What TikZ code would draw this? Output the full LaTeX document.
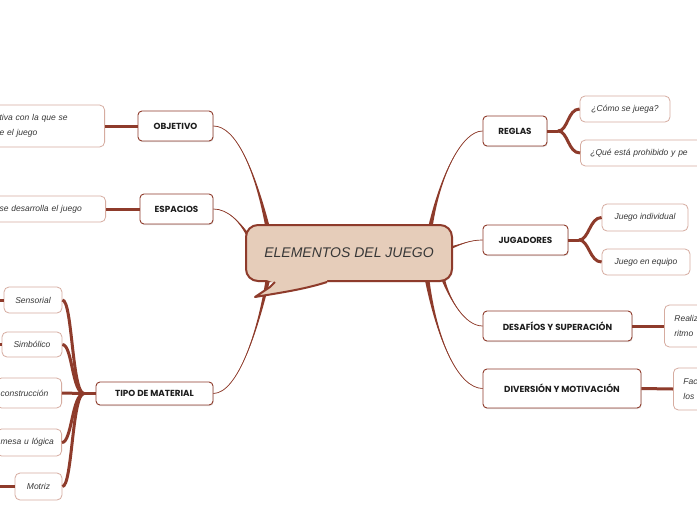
\documentclass[tikz,border=0pt]{standalone}
\usepackage{fontspec}
\setmainfont{Liberation Sans}
\newfontfamily\topicfont{Poppins}
\newfontfamily\subfont{Liberation Sans}
\usetikzlibrary{calc,shadows}
\definecolor{brn}{RGB}{142,59,43}
\definecolor{lbrn}{RGB}{214,172,160}
\definecolor{ctan}{RGB}{230,205,186}
\definecolor{txt}{RGB}{55,55,55}
\definecolor{ttxt}{RGB}{30,30,30}
\newcommand{\taperline}[5]{%
  \fill[brn] #1 .. controls #2 and #3 .. ($#4+#5$) -- ($#4-#5$) .. controls #3 and #2 .. #1 -- cycle;
  \draw[brn,line width=0.7] #1 .. controls #2 and #3 .. #4;}
\tikzset{
  topic/.style={draw=brn, line width=0.9pt, fill=white, rounded corners=4pt, text=ttxt,
    font=\topicfont\bfseries\fontsize{8.8}{10}\selectfont, inner sep=2pt,
    drop shadow={shadow xshift=0.6pt, shadow yshift=-1pt, opacity=0.25}},
  sub/.style={draw=lbrn, line width=0.8pt, fill=white, rounded corners=5pt, text=txt,
    font=\subfont\itshape\fontsize{8.5}{15}\selectfont, inner sep=2pt},
  thickc/.style={draw=brn, line width=3pt},
}
\begin{document}
\begin{tikzpicture}[x=1pt,y=-1pt]
\useasboundingbox (0,0) rectangle (697,520);
\clip (0,0) rectangle (697,520);
\fill[white] (0,0) rectangle (697,520);

% topics
\node[topic, minimum width=75pt, minimum height=30pt] (obj) at (175.5,126) {OBJETIVO};
\node[topic, minimum width=73pt, minimum height=30pt] (esp) at (176.5,209) {ESPACIOS};
\node[topic, minimum width=117pt, minimum height=23pt] (tip) at (154.5,393.5) {TIPO DE MATERIAL};
\node[topic, minimum width=64pt, minimum height=30pt] (reg) at (515,131) {REGLAS};
\node[topic, minimum width=85pt, minimum height=30pt] (jug) at (525.5,240) {JUGADORES};
\node[topic, minimum width=149pt, minimum height=30pt] (des) at (557.5,326) {DESAFÍOS Y SUPERACIÓN};
\node[topic, minimum width=158pt, minimum height=39pt] (div) at (562,388.5) {DIVERSIÓN Y MOTIVACIÓN};

% center anchor points
\coordinate (cobj) at (268,229);
\coordinate (cesp) at (249,237);
\coordinate (ctip) at (268,279);
\coordinate (creg) at (430,229);
\coordinate (cjug) at (450,248);
\coordinate (cdes) at (443,279);
\coordinate (cdiv) at (427,279);

% main tapered connectors
\taperline{(obj.east)}{(236,126)}{(255,170)}{(cobj)}{(2.3,0)}
\taperline{(esp.east)}{(228,209)}{(240,222)}{(cesp)}{(1.3,-1.3)}
\taperline{(tip.east)}{(238,393)}{(258,330)}{(ctip)}{(2.3,0)}
\taperline{(reg.west)}{(462,131)}{(440,175)}{(creg)}{(2.3,0)}
\taperline{(jug.west)}{(470,240)}{(462,244)}{(cjug)}{(0,1.6)}
\taperline{(des.west)}{(465,326)}{(450,300)}{(cdes)}{(1.9,0)}
\taperline{(div.west)}{(458,388)}{(437,340)}{(cdiv)}{(2.3,0)}

% central callout
\node[draw=brn, line width=2pt, fill=ctan, rounded corners=12pt,
      minimum width=206pt, minimum height=56pt, text=txt,
      font=\itshape\fontsize{14}{16}\selectfont,
      drop shadow={shadow xshift=0.8pt, shadow yshift=-1.2pt, opacity=0.25}]
      (c) at (349,253) {ELEMENTOS DEL JUEGO};
\coordinate (tipL) at (275,283);
\coordinate (tipP) at (255,297);
\coordinate (tipR) at (327,283);
\fill[ctan] (264,279) -- (tipL) -- (270,287) -- (tipP) .. controls (285,292) and (305,289) .. (tipR) -- (327,279) -- cycle;
\draw[brn, line width=2pt, line join=round] ($(tipL)+(0,-1)$) -- (270,287) -- (tipP) .. controls (285,292) and (305,289) .. ($(tipR)+(0,-1)$);

% left subtopics
\node[sub, anchor=east, text width=85pt, inner xsep=20pt, minimum height=42pt, align=left] (objd) at (105,126) {tiva con la que se\\e el juego};
\node[sub, anchor=east, text width=86pt, inner xsep=20pt, minimum height=26pt, align=left] (espd) at (106,209) {se desarrolla el juego};
\node[sub, minimum width=58pt, minimum height=26pt] (sens) at (33,300) {Sensorial};
\node[sub, minimum width=60pt, minimum height=25pt] (simb) at (32,344.5) {Simbólico};
\node[sub, anchor=east, text width=57pt, inner xsep=4pt, minimum height=30pt, align=left] (cons) at (62,393) {construcción};
\node[sub, anchor=east, text width=57pt, inner xsep=4pt, minimum height=27pt, align=left] (mesa) at (62,442.5) {mesa u lógica};
\node[sub, minimum width=47pt, minimum height=27pt] (motr) at (38.5,486.5) {Motriz};

% right subtopics
\node[sub, minimum width=90pt, minimum height=26pt] (como) at (625,109) {¿Cómo se juega?};
\node[sub, anchor=west, text width=140pt, inner xsep=10pt, minimum height=26pt, align=left] (que) at (580,153) {¿Qué está prohibido y pe};
\node[sub, minimum width=86pt, minimum height=27pt] (ind) at (645,217.5) {Juego individual};
\node[sub, minimum width=88pt, minimum height=26pt] (equ) at (646,262) {Juego en equipo};
\node[sub, anchor=west, text width=80pt, inner xsep=10pt, minimum height=42pt, align=left] (real) at (664,326) {Realiz\\ritmo};
\node[sub, anchor=west, text width=80pt, inner xsep=10pt, minimum height=42pt, align=left] (fac) at (673,389) {Fac\\los};

% child connectors
\draw[thickc] (obj.west) -- (objd.east);
\draw[thickc] (esp.west) -- (espd.east);
\coordinate (jt) at (84,393.5);
\draw[thickc] (tip.west) -- (jt);
\foreach \n in {sens,simb,cons,mesa,motr}{
  \draw[thickc] (jt) .. controls (72,393.5) and ($(\n.east)+(10,0)$) .. (\n.east);
}
\coordinate (jr) at (558,131);
\draw[thickc] (reg.east) -- (jr);
\draw[thickc] (jr) .. controls (568,131) and ($(como.west)+(-12,0)$) .. (como.west);
\draw[thickc] (jr) .. controls (568,131) and ($(que.west)+(-12,0)$) .. (que.west);
\coordinate (jj) at (579,240);
\draw[thickc] (jug.east) -- (jj);
\draw[thickc] (jj) .. controls (589,240) and ($(ind.west)+(-12,0)$) .. (ind.west);
\draw[thickc] (jj) .. controls (589,240) and ($(equ.west)+(-12,0)$) .. (equ.west);
\draw[thickc] (des.east) -- (real.west);
\draw[thickc] (div.east) -- (fac.west);

% stubs to off-picture children
\coordinate (s1) at (-2,300);
\coordinate (s2) at (-2,344.5);
\coordinate (s3) at (-2,486.5);
\draw[thickc] (sens.west) -- (s1);
\draw[thickc] (simb.west) -- (s2);
\draw[thickc] (motr.west) -- (s3);
\end{tikzpicture}
\end{document}
